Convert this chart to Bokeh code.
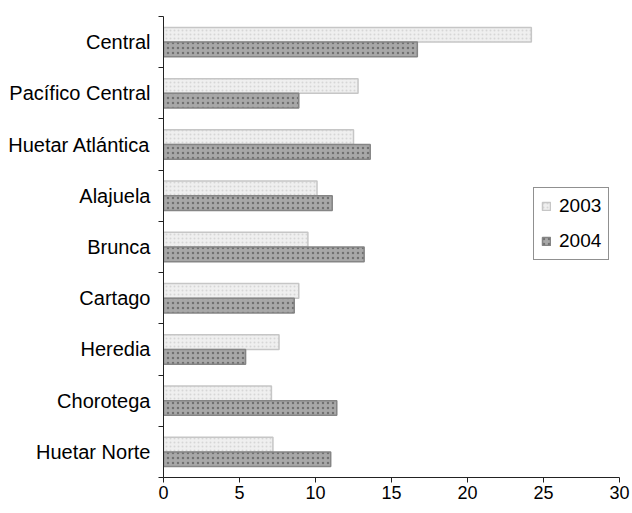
from bokeh.plotting import figure
from bokeh.models import Range1d, FixedTicker, Legend, LegendItem, ColumnDataSource
from bokeh.embed import file_html
from bokeh.resources import INLINE
import numpy as np

regions = ["Central", "Pacífico Central", "Huetar Atlántica", "Alajuela", "Brunca",
           "Cartago", "Heredia", "Chorotega", "Huetar Norte"]
v2003 = [24.2, 12.8, 12.5, 10.1, 9.5, 8.9, 7.6, 7.1, 7.2]
v2004 = [16.7, 8.9, 13.6, 11.1, 13.2, 8.6, 5.4, 11.4, 11.0]
x_ticks = [0, 5, 10, 15, 20, 25, 30]

n = len(regions)
centers = np.array([n - 1 - i + 0.5 for i in range(n)])
bar_h = 0.287
off = bar_h / 2

src = ColumnDataSource(dict(y03=centers + off, y04=centers - off, v03=v2003, v04=v2004))

FONT = "Liberation Sans"

p = figure(frame_width=456, frame_height=461,
           x_range=Range1d(0, 30), y_range=Range1d(0, n),
           output_backend="svg", toolbar_location=None,
           min_border_left=163, min_border_top=16, min_border_right=12, min_border_bottom=28)
p.outline_line_color = None
p.xgrid.visible = False
p.ygrid.visible = False

r1 = p.hbar(y="y03", right="v03", left=0, height=bar_h, source=src,
            fill_color="#efefef", line_color="#c6c6c6", line_width=1.5,
            hatch_pattern="dot", hatch_color="#d6d6d6", hatch_scale=4, hatch_weight=1)
r2 = p.hbar(y="y04", right="v04", left=0, height=bar_h, source=src,
            fill_color="#a8a8a8", line_color="#858585", line_width=1.5,
            hatch_pattern="dot", hatch_color="#707070", hatch_scale=5, hatch_weight=1)

# x axis
p.xaxis.ticker = FixedTicker(ticks=x_ticks)
p.xaxis.major_tick_out = 5
p.xaxis.major_tick_in = 0
p.xaxis.minor_tick_out = 0
p.xaxis.minor_tick_in = 0
p.xaxis.major_label_standoff = 3
p.xaxis.major_label_text_font = FONT
p.xaxis.major_label_text_font_size = "18px"
p.xaxis.major_label_text_color = "black"
p.xaxis.axis_line_color = "#222222"
p.xaxis.major_tick_line_color = "#222222"

# y axis: labels at centers, ticks at boundaries
p.yaxis.ticker = FixedTicker(ticks=list(centers), minor_ticks=list(range(n + 1)))
p.yaxis.major_label_overrides = {float(c): regions[i] for i, c in enumerate(centers)}
p.yaxis.major_tick_out = 0
p.yaxis.major_tick_in = 0
p.yaxis.minor_tick_out = 5
p.yaxis.minor_tick_in = 0
p.yaxis.minor_tick_line_color = "#222222"
p.yaxis.axis_line_color = "#222222"
p.yaxis.major_label_standoff = 8
p.yaxis.major_label_text_font = FONT
p.yaxis.major_label_text_font_size = "20px"
p.yaxis.major_label_text_color = "black"

legend = Legend(items=[LegendItem(label="2003", renderers=[r1]),
                       LegendItem(label="2004", renderers=[r2])],
                location=(370, 217))
legend.border_line_color = "#222222"
legend.border_line_width = 1
legend.background_fill_color = "white"
legend.background_fill_alpha = 1
legend.label_text_font = FONT
legend.label_text_font_size = "19px"
legend.label_text_color = "black"
legend.glyph_width = 10
legend.glyph_height = 10
legend.label_standoff = 8
legend.padding = 7
legend.spacing = 13
legend.margin = 0
p.add_layout(legend)

open("out.html", "w").write(file_html(p, INLINE))
